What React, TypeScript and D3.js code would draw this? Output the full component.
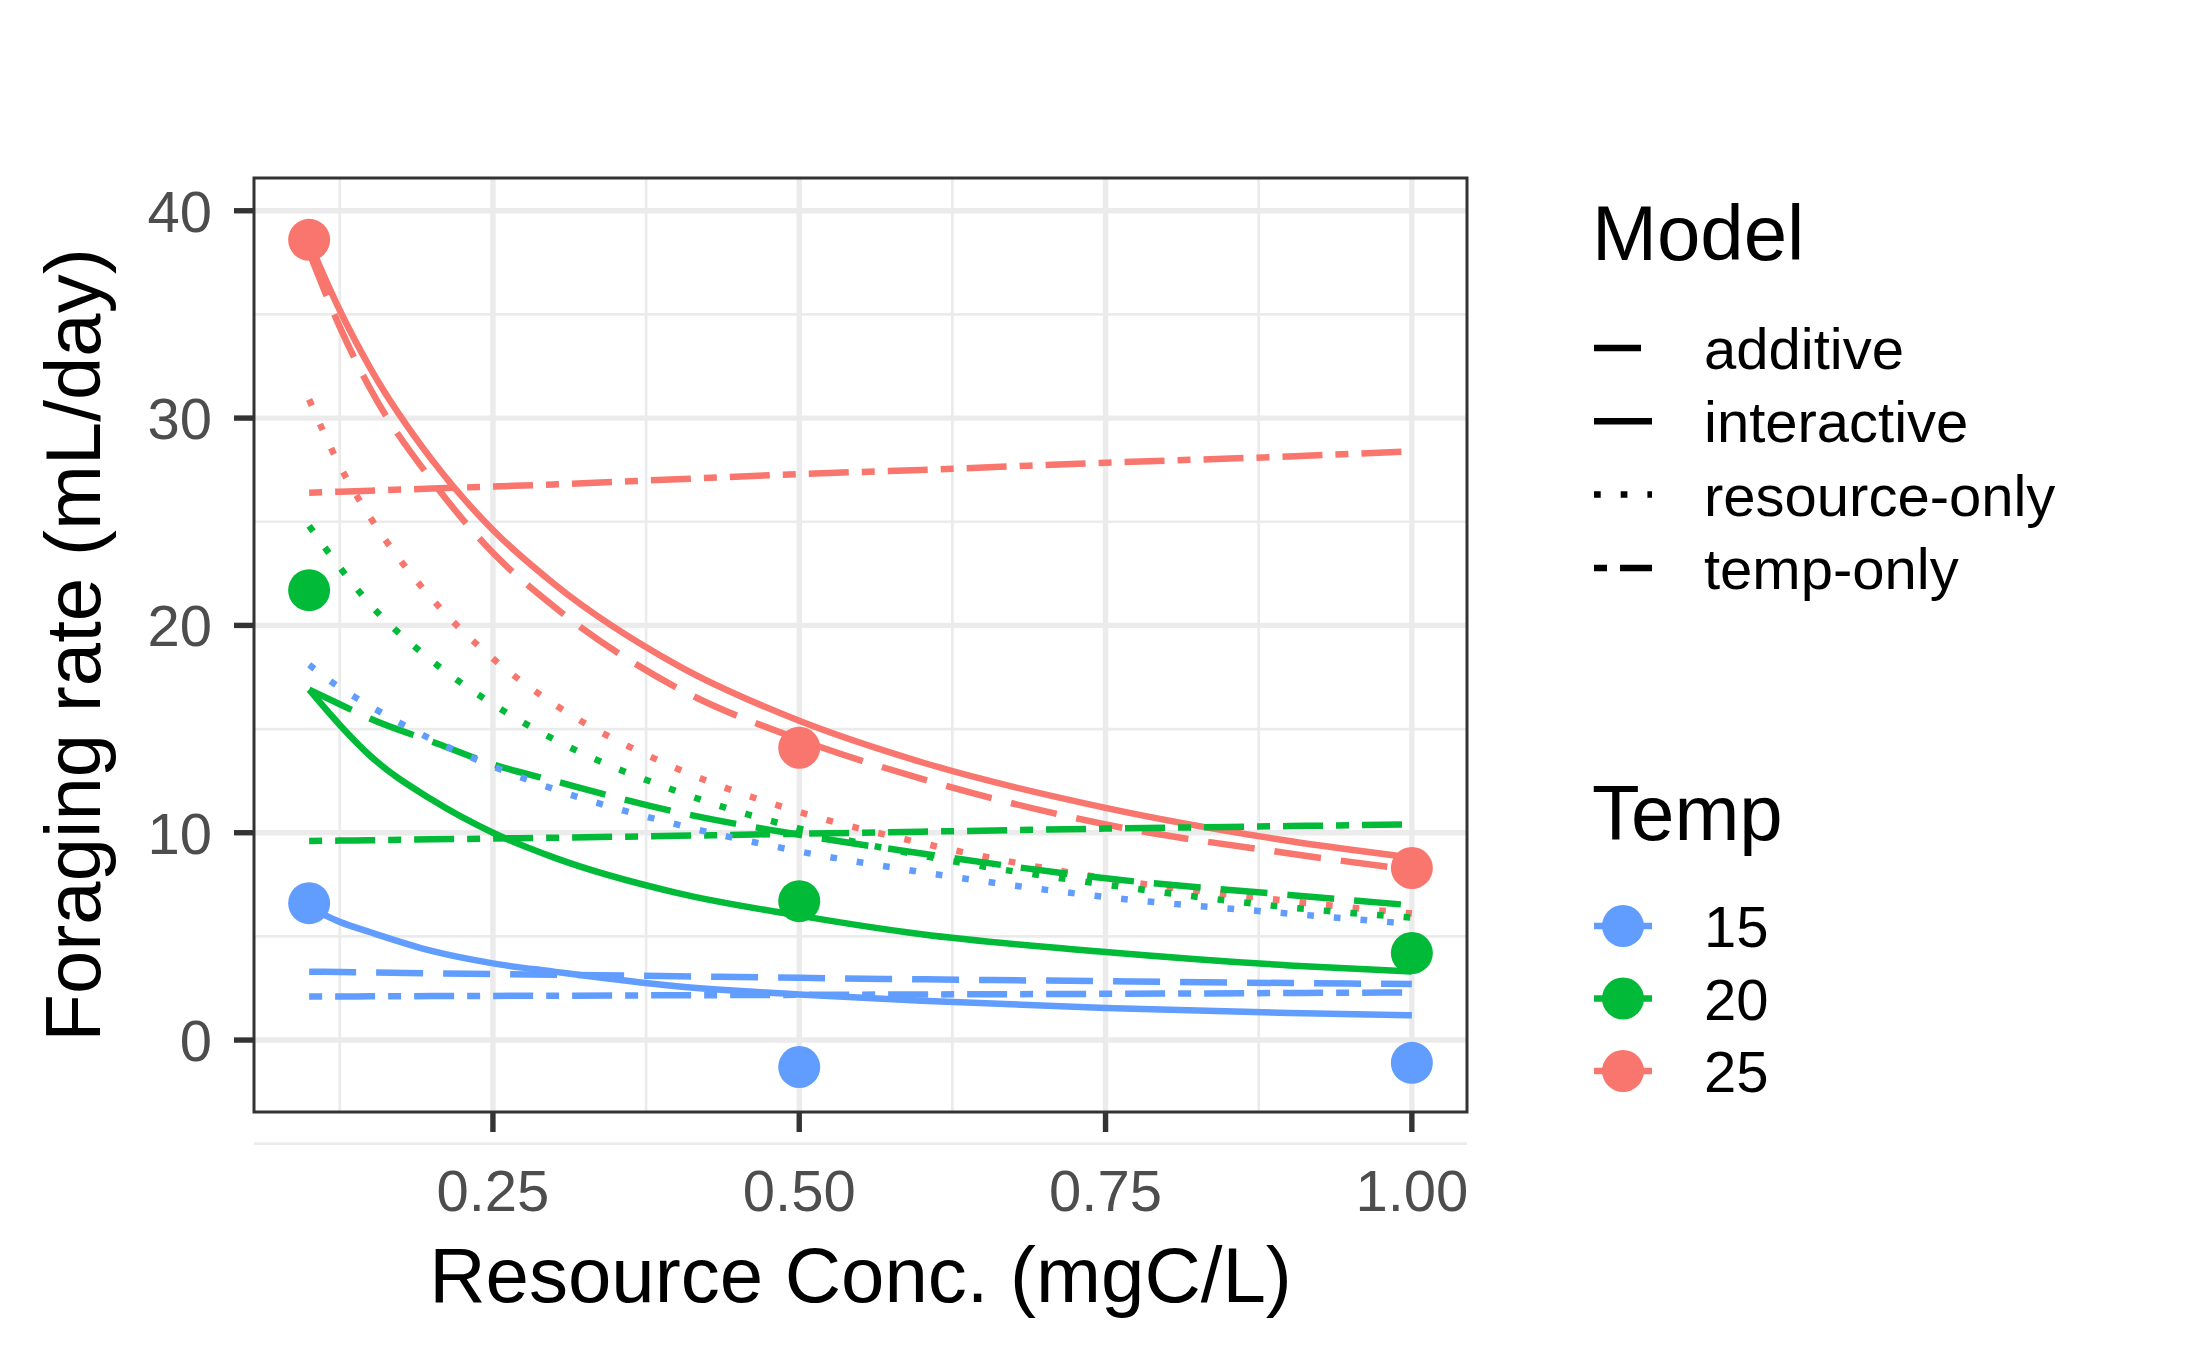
import React from "react";
import * as d3 from "d3";

const xGrid = [0.1, 0.125, 0.15, 0.2, 0.25, 0.3, 0.4, 0.5, 0.6, 0.75, 0.9, 1.0];
// Temp 25
const red_interactive = [38.5, 35.2, 32.4, 28.0, 24.6, 22.0, 18.1, 15.4, 13.4, 11.2, 9.6, 8.8];
const red_additive = [38.0, 34.4, 31.4, 27.0, 23.5, 20.9, 17.0, 14.5, 12.6, 10.4, 9.0, 8.2];
const red_resource = [30.9, 27.7, 25.2, 21.3, 18.4, 16.2, 13.1, 11.0, 9.5, 7.8, 6.7, 6.1];
const red_temp = [26.4, 26.45, 26.5, 26.6, 26.7, 26.8, 27.05, 27.3, 27.5, 27.85, 28.15, 28.4];
// Temp 20
const green_interactive = [16.9, 15.2, 13.7, 11.6, 10.0, 8.8, 7.1, 6.0, 5.1, 4.25, 3.6, 3.3];
const green_additive = [16.9, 16.2, 15.5, 14.4, 13.3, 12.5, 11.0, 9.9, 9.0, 7.8, 7.0, 6.5];
const green_resource = [24.8, 22.8, 21.0, 18.3, 16.2, 14.5, 12.0, 10.2, 8.9, 7.5, 6.4, 5.9];
const green_temp = [9.6, 9.62, 9.64, 9.68, 9.72, 9.76, 9.85, 9.95, 10.05, 10.2, 10.32, 10.4];
// Temp 15
const blue_interactive = [6.4, 5.7, 5.2, 4.3, 3.7, 3.3, 2.6, 2.2, 1.9, 1.55, 1.3, 1.2];
const blue_additive = [3.3, 3.28, 3.26, 3.22, 3.18, 3.15, 3.08, 3.0, 2.93, 2.84, 2.75, 2.7];
const blue_resource = [18.1, 17.0, 16.1, 14.5, 13.2, 12.1, 10.4, 9.1, 8.1, 6.9, 6.1, 5.6];
const blue_temp = [2.1, 2.1, 2.11, 2.12, 2.13, 2.14, 2.16, 2.18, 2.2, 2.23, 2.27, 2.3];

const obsX = [0.1, 0.5, 1.0];
const obs15 = [6.6, -1.3, -1.1];
const obs20 = [21.7, 6.7, 4.2];
const obs25 = [38.6, 14.1, 8.3];

const xTicks = [0.25, 0.5, 0.75, 1.0];
const xMinor = [0.125, 0.375, 0.625, 0.875];
const yTicks = [0, 10, 20, 30, 40];
const yMinor = [-5, 5, 15, 25, 35];

const modelNames = ["additive", "interactive", "resource-only", "temp-only"];
const tempNames = ["15", "20", "25"];
const colors: Record<string, string> = { "15": "#619CFF", "20": "#00BA38", "25": "#F8766D" };
const dashes: Record<string, string | undefined> = {
  additive: "47 20",
  interactive: undefined,
  "resource-only": "6.7 20",
  "temp-only": "13 13 40 13",
};

const series = [
  { temp: "25", model: "additive", v: red_additive },
  { temp: "25", model: "interactive", v: red_interactive },
  { temp: "25", model: "resource-only", v: red_resource },
  { temp: "25", model: "temp-only", v: red_temp },
  { temp: "20", model: "additive", v: green_additive },
  { temp: "20", model: "interactive", v: green_interactive },
  { temp: "20", model: "resource-only", v: green_resource },
  { temp: "20", model: "temp-only", v: green_temp },
  { temp: "15", model: "additive", v: blue_additive },
  { temp: "15", model: "interactive", v: blue_interactive },
  { temp: "15", model: "resource-only", v: blue_resource },
  { temp: "15", model: "temp-only", v: blue_temp },
];
const points = [
  { temp: "15", v: obs15 },
  { temp: "20", v: obs20 },
  { temp: "25", v: obs25 },
];

export default function App() {
  const W = 2187, H = 1351;
  const L = 254, R = 1467, T = 178, B = 1112;
  const x = d3.scaleLinear().domain([0.055, 1.045]).range([L, R]);
  const y = d3.scaleLinear().domain([-3.47, 41.58]).range([B, T]);
  const line = d3.line<[number, number]>().x(d => x(d[0])).y(d => y(d[1])).curve(d3.curveMonotoneX);
  const lw = 6.5;
  const font = "Liberation Sans, Arial, sans-serif";
  return (
    <svg width={W} height={H} style={{ position: "absolute", left: 0, top: 0, background: "#fff" }} fontFamily={font}>
      <rect x={0} y={0} width={W} height={H} fill="#fff" />
      <defs>
        <clipPath id="pc"><rect x={L} y={T} width={R - L} height={B - T} /></clipPath>
      </defs>
      {xMinor.map(t => <line key={"xm" + t} x1={x(t)} x2={x(t)} y1={T} y2={B} stroke="#EBEBEB" strokeWidth={2.7} />)}
      {yMinor.map(t => <line key={"ym" + t} x1={L} x2={R} y1={y(t)} y2={y(t)} stroke="#EBEBEB" strokeWidth={2.7} />)}
      {xTicks.map(t => <line key={"xM" + t} x1={x(t)} x2={x(t)} y1={T} y2={B} stroke="#EBEBEB" strokeWidth={5.4} />)}
      {yTicks.map(t => <line key={"yM" + t} x1={L} x2={R} y1={y(t)} y2={y(t)} stroke="#EBEBEB" strokeWidth={5.4} />)}
      <g clipPath="url(#pc)">
        {series.map((s, i) => (
          <path key={i} d={line(xGrid.map((xv, j) => [xv, s.v[j]]) as [number, number][]) || ""}
            fill="none" stroke={colors[s.temp]} strokeWidth={lw} strokeDasharray={dashes[s.model]} />
        ))}
        {points.map(p => p.v.map((v, j) => (
          <circle key={p.temp + j} cx={x(obsX[j])} cy={y(v)} r={21} fill={colors[p.temp]} />
        )))}
      </g>
      <rect x={L} y={T} width={R - L} height={B - T} fill="none" stroke="#333333" strokeWidth={3} />
      {xTicks.map(t => (
        <g key={"xt" + t}>
          <line x1={x(t)} x2={x(t)} y1={B} y2={B + 20} stroke="#333333" strokeWidth={5.4} />
          <text x={x(t)} y={1211} textAnchor="middle" fontSize={58} fill="#4D4D4D">{t.toFixed(2)}</text>
        </g>
      ))}
      {yTicks.map(t => (
        <g key={"yt" + t}>
          <line x1={L - 20} x2={L} y1={y(t)} y2={y(t)} stroke="#333333" strokeWidth={5.4} />
          <text x={212} y={y(t) + 21} textAnchor="end" fontSize={58} fill="#4D4D4D">{t}</text>
        </g>
      ))}
      <text x={(L + R) / 2} y={1302} textAnchor="middle" fontSize={78} fill="#000">Resource Conc. (mgC/L)</text>
      <text transform={`translate(100,${(T + B) / 2}) rotate(-90)`} textAnchor="middle" fontSize={78} fill="#000">Foraging rate (mL/day)</text>

      <text x={1592} y={260} fontSize={78} fill="#000">Model</text>
      {modelNames.map((m, i) => {
        const cy = 348 + i * 73.3;
        return (
          <g key={m}>
            <line x1={1594} x2={1652} y1={cy} y2={cy} stroke="#000" strokeWidth={lw} strokeDasharray={dashes[m]} />
            <text x={1704} y={cy + 21} fontSize={58} fill="#000">{m}</text>
          </g>
        );
      })}
      <text x={1592} y={840} fontSize={78} fill="#000">Temp</text>
      {tempNames.map((t, i) => {
        const cy = 926 + i * 72.5;
        return (
          <g key={t}>
            <line x1={1594} x2={1652} y1={cy} y2={cy} stroke={colors[t]} strokeWidth={lw} />
            <circle cx={1623} cy={cy} r={21} fill={colors[t]} />
            <text x={1704} y={cy + 21} fontSize={58} fill="#000">{t}</text>
          </g>
        );
      })}
    </svg>
  );
}
